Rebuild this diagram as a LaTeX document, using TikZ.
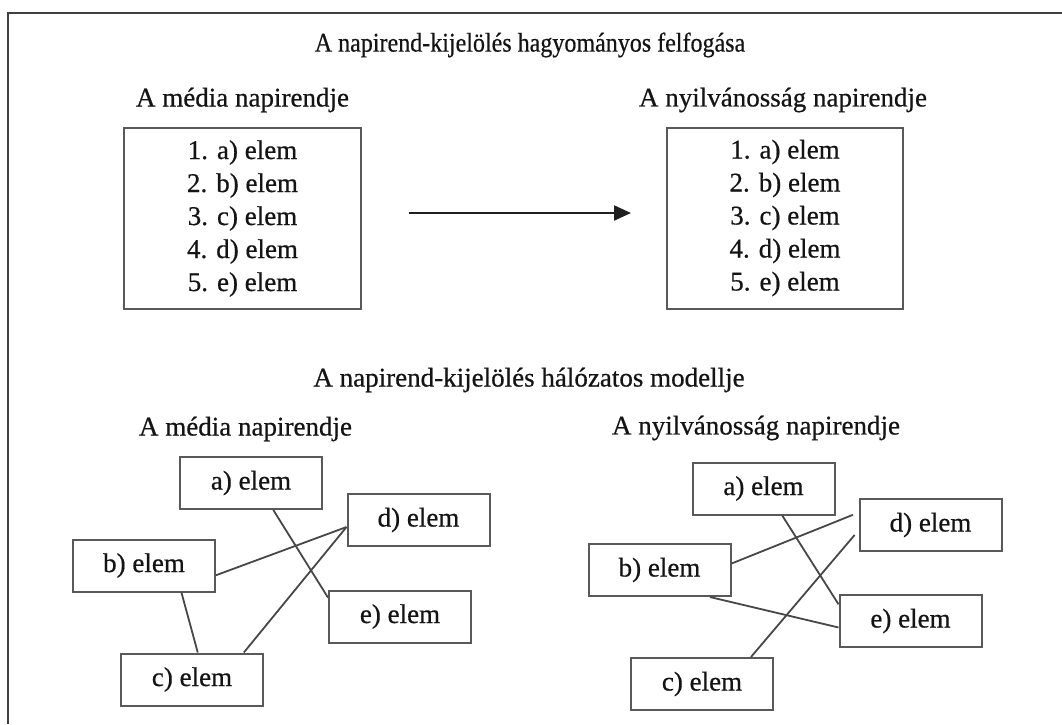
\documentclass[tikz,border=0pt]{standalone}
\usepackage{fontspec}
\setmainfont{Liberation Serif}[FakeBold=0.6]
\usetikzlibrary{calc,arrows.meta}
\tikzset{
  txt/.style={inner sep=0pt, text=black!92, font=\fontsize{27}{33}\selectfont},
  listbox/.style={draw=black!65, line width=2pt, minimum width=237pt, minimum height=181pt, inner sep=0pt, align=center, text=black!92, font=\fontsize{27}{33}\selectfont},
  elembox/.style={draw=black!65, line width=2pt, minimum width=142pt, minimum height=52pt, inner sep=0pt, text=black!92, font=\fontsize{27}{33}\selectfont},
  link/.style={draw=black!72, line width=1.8pt},
  frame/.style={draw=black!75, line width=2.2pt},
  flow/.style={draw=black!88, line width=2.2pt, -{Triangle[length=17pt,width=15pt]}}
}
\begin{document}
\begin{tikzpicture}[x=1pt,y=-1pt]
\useasboundingbox (0,0) rectangle (1062,724);
% frame (top and left)
\coordinate (ftl) at (8,13);
\coordinate (ftr) at (1062,13);
\coordinate (fbl) at (8,724);
\draw[frame] (ftr) -- (ftl) -- (fbl);

% top section
\node[txt] (title1) at (530,45) {\scalebox{0.89}[1]{A napirend-kijelölés hagyományos felfogása}};
\node[txt] (mh1) at (242.5,100) {A média napirendje};
\node[txt] (nh1) at (783,100) {A nyilvánosság napirendje};
\node[listbox] (mlist) at (242.5,218.5) {1. a) elem\\2. b) elem\\3. c) elem\\4. d) elem\\5. e) elem};
\node[listbox, minimum width=236pt] (nlist) at (785,218) {1. a) elem\\2. b) elem\\3. c) elem\\4. d) elem\\5. e) elem};
\coordinate (arrs) at (409,213);
\coordinate (arre) at (631,213);
\draw[flow] (arrs) -- (arre);

% bottom section
\node[txt] (title2) at (529,380) {A napirend-kijelölés hálózatos modellje};
\node[txt] (mh2) at (245.5,429) {A média napirendje};
\node[txt] (nh2) at (756,428) {A nyilvánosság napirendje};

% left network
\node[elembox] (la) at (251,483) {a) elem};
\node[elembox] (ld) at (418.5,520) {d) elem};
\node[elembox] (lb) at (144,565.5) {b) elem};
\node[elembox] (le) at (400,616.5) {e) elem};
\node[elembox] (lc) at (192,679.5) {c) elem};
\draw[link] ($(la.south west)!0.655!(la.south east)$) -- ($(le.north west)!0.15!(le.south west)$);
\draw[link] ($(lb.north east)!0.68!(lb.south east)$) -- ($(ld.north west)!0.63!(ld.south west)$);
\draw[link] ($(lc.north west)!0.86!(lc.north east)$) -- ($(ld.north west)!0.63!(ld.south west)$);
\draw[link] ($(lb.south west)!0.76!(lb.south east)$) -- ($(lc.north west)!0.54!(lc.north east)$);

% right network
\node[elembox] (ra) at (763.5,488.5) {a) elem};
\node[elembox] (rd) at (930.5,525) {d) elem};
\node[elembox] (rb) at (659.5,570) {b) elem};
\node[elembox] (re) at (910.5,621) {e) elem};
\node[elembox] (rc) at (702,684) {c) elem};
\draw[link] ($(ra.south west)!0.63!(ra.south east)$) -- ($(re.north west)!0.19!(re.south west)$);
\draw[link, shorten >=6pt] ($(rb.north east)!0.38!(rb.south east)$) -- ($(rd.north west)!0.27!(rd.south west)$);
\draw[link, shorten >=6pt] ($(rc.north west)!0.84!(rc.north east)$) -- ($(rd.north west)!0.6!(rd.south west)$);
\draw[link] ($(rb.south west)!0.85!(rb.south east)$) -- ($(re.north west)!0.62!(re.south west)$);
\end{tikzpicture}
\end{document}
